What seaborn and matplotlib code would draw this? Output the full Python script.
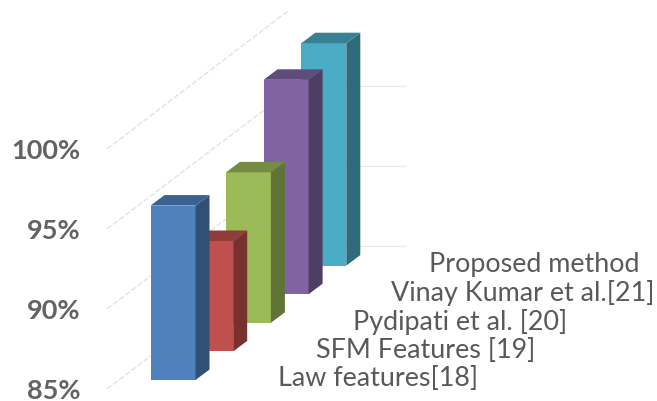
import matplotlib
matplotlib.use("Agg")
import matplotlib.pyplot as plt
import seaborn as sns
from matplotlib.patches import Polygon

series = ['Law features[18]', 'SFM Features [19]', 'Pydipati et al. [20]',
          'Vinay Kumar et al.[21]', 'Proposed method']
accuracy = [95.9, 91.9, 94.4, 98.4, 98.9]
colors = ['#4f81bd', '#c0504d', '#9bbb59', '#8064a2', '#4bacc6']
tick_values = [85, 90, 95, 100]
tick_labels = ['85%', '90%', '95%', '100%']

BASE = 85
PX_X = 37.7   # pixels per series step
PX_Y = 16.0   # pixels per percent
STEP_UP = 28.6 / PX_Y   # each series sits further back
DEPTH_X = 14 / PX_X
DEPTH_Y = 10.5 / PX_Y
FLOOR = 9 / PX_Y        # gridlines start a bit under the front bar base


def shade(color, factor):
    r, g, b = matplotlib.colors.to_rgb(color)
    return (r * factor, g * factor, b * factor)


sns.set_theme(style="white")
plt.rcParams['font.family'] = ['Lato', 'DejaVu Sans']

fig = plt.figure(figsize=(6.57, 4.02), dpi=100)
ax = fig.add_axes([0, 0, 1, 1])

# gridlines: diagonal on the side wall, flat on the back wall
for v, lab in zip(tick_values, tick_labels):
    y0 = v - FLOOR
    rise = 143 / PX_Y
    x0, x1, x2 = -66 / PX_X, 123 / PX_X, 232 / PX_X
    ax.plot([x0, x1 if v < 100 else 115 / PX_X],
            [y0, y0 + rise if v < 100 else y0 + rise * 138 / 143],
            color='#e2e2e2', lw=1, ls=(0, (4, 1.5)), zorder=0)
    if v < 100:
        ax.plot([x1, x2], [y0 + rise, y0 + rise], color='#e8e8e8', lw=1, zorder=0)
    ax.text(-93 / PX_X, y0 - 1.5 / PX_Y, lab, ha='right', va='center', fontsize=19.5,
            color='#636363', fontweight='bold')

# back to front so nearer bars cover the ones behind
for i in reversed(range(len(series))):
    bottom = BASE + i * STEP_UP
    before = len(ax.patches)
    sns.barplot(x=[i], y=[accuracy[i] - BASE], bottom=bottom, native_scale=True,
                width=45 / PX_X, color=colors[i], saturation=1, ax=ax, linewidth=0)
    bar = ax.patches[before]
    z = 10 + (len(series) - i) * 2
    bar.set_zorder(z)
    l, r = bar.get_x(), bar.get_x() + bar.get_width()
    b, t = bar.get_y(), bar.get_y() + bar.get_height()
    ax.add_patch(Polygon([(r, b), (r + DEPTH_X, b + DEPTH_Y), (r + DEPTH_X, t + DEPTH_Y), (r, t)],
                         facecolor=shade(colors[i], 0.62), edgecolor='none', zorder=z))
    ax.add_patch(Polygon([(l, t), (l + DEPTH_X, t + DEPTH_Y), (r + DEPTH_X, t + DEPTH_Y), (r, t)],
                         facecolor=shade(colors[i], 0.75), edgecolor='none', zorder=z))
    ax.text(i + 105 / PX_X, BASE + i * STEP_UP + 2 / PX_Y, series[i],
            ha='left', va='center', fontsize=19.4, color='#595959', zorder=40)

ax.set_xlim(-173 / PX_X, 484 / PX_X)
ax.set_ylim(BASE - 21 / PX_Y, BASE + 381 / PX_Y)
ax.set_xlabel('')
ax.set_ylabel('')
ax.axis('off')

fig.savefig('out.png', dpi=100)
